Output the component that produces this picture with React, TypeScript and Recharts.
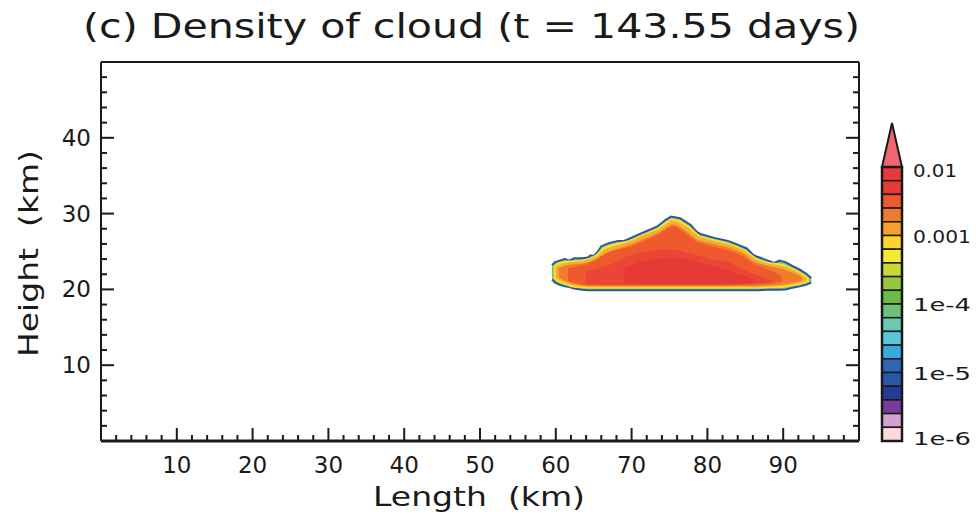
import { ComposedChart, Area, XAxis, YAxis } from "recharts";

const W = 976;
const H = 517;
const INK = "#1a1a1a";
const FONT = "DejaVu Sans, sans-serif";

// contour outlines: [x km, base km, top km]
const EDGE = [
  [59.5, 21.3, 23.2],
  [59.9, 20.9, 23.6],
  [60.5, 20.6, 23.8],
  [61.2, 20.4, 24.0],
  [61.8, 20.3, 23.8],
  [62.4, 20.1, 24.1],
  [63.5, 19.95, 24.1],
  [64.2, 19.9, 24.2],
  [64.6, 19.9, 24.5],
  [65.0, 19.9, 24.4],
  [65.5, 19.9, 24.9],
  [66.0, 19.9, 25.7],
  [67.0, 19.9, 26.1],
  [68.2, 19.9, 26.4],
  [69.0, 19.9, 26.4],
  [69.7, 19.9, 26.7],
  [70.8, 19.9, 27.2],
  [72.0, 19.9, 27.7],
  [73.4, 19.9, 28.3],
  [74.4, 19.9, 29.1],
  [75.2, 19.9, 29.6],
  [76.4, 19.9, 29.4],
  [77.8, 19.9, 28.5],
  [78.6, 19.9, 27.6],
  [79.1, 19.9, 27.3],
  [80.9, 19.9, 26.8],
  [82.7, 19.9, 26.4],
  [84.0, 19.9, 25.9],
  [85.2, 19.9, 25.4],
  [86.0, 19.9, 24.6],
  [86.6, 19.9, 24.3],
  [88.0, 19.95, 23.8],
  [88.8, 19.95, 23.5],
  [89.5, 19.95, 23.8],
  [90.3, 20.0, 23.6],
  [91.2, 20.2, 23.1],
  [92.2, 20.4, 22.6],
  [93.0, 20.6, 22.1],
  [93.7, 20.9, 21.5],
];

const YELLOW_BAND = [
  [59.7, 21.4, 23.1],
  [60.2, 21.0, 23.5],
  [61.2, 20.6, 23.8],
  [62.0, 20.3, 23.8],
  [63.5, 20.15, 23.9],
  [64.6, 20.1, 24.2],
  [65.4, 20.1, 24.7],
  [66.1, 20.1, 25.5],
  [67.0, 20.1, 25.9],
  [68.2, 20.1, 26.2],
  [69.7, 20.1, 26.5],
  [70.8, 20.1, 27.0],
  [72.0, 20.1, 27.5],
  [73.4, 20.1, 28.1],
  [74.4, 20.1, 28.9],
  [75.2, 20.1, 29.4],
  [76.3, 20.1, 29.2],
  [77.7, 20.1, 28.3],
  [79.0, 20.1, 27.1],
  [80.9, 20.1, 26.6],
  [82.7, 20.1, 26.2],
  [84.0, 20.1, 25.7],
  [85.1, 20.1, 25.2],
  [86.5, 20.1, 24.1],
  [88.0, 20.15, 23.6],
  [90.0, 20.2, 23.4],
  [91.1, 20.4, 22.9],
  [92.1, 20.6, 22.4],
  [92.9, 20.8, 21.9],
  [93.4, 21.0, 21.5],
];

const AMBER_BAND = [
  [60.0, 21.5, 23.0],
  [60.6, 21.1, 23.3],
  [61.4, 20.8, 23.5],
  [62.2, 20.5, 23.6],
  [63.5, 20.35, 23.7],
  [64.6, 20.3, 24.0],
  [65.5, 20.3, 24.4],
  [66.3, 20.3, 25.2],
  [67.2, 20.3, 25.6],
  [68.3, 20.3, 25.9],
  [69.7, 20.3, 26.3],
  [70.8, 20.3, 26.8],
  [72.0, 20.3, 27.3],
  [73.5, 20.3, 27.9],
  [74.5, 20.3, 28.6],
  [75.2, 20.3, 29.1],
  [76.2, 20.3, 28.9],
  [77.5, 20.3, 28.1],
  [78.9, 20.3, 26.9],
  [80.9, 20.3, 26.4],
  [82.6, 20.3, 26.0],
  [84.0, 20.3, 25.5],
  [85.0, 20.3, 25.0],
  [86.4, 20.3, 23.9],
  [88.0, 20.35, 23.4],
  [90.0, 20.45, 23.1],
  [91.0, 20.6, 22.7],
  [92.0, 20.8, 22.2],
  [92.8, 21.0, 21.7],
  [93.1, 21.2, 21.4],
];

const ORANGE_BAND = [
  [60.4, 21.6, 22.8],
  [61.0, 21.2, 23.1],
  [62.0, 20.8, 23.3],
  [63.5, 20.5, 23.4],
  [64.7, 20.45, 23.7],
  [65.6, 20.45, 24.1],
  [66.6, 20.45, 24.8],
  [67.5, 20.45, 25.2],
  [68.5, 20.45, 25.5],
  [69.8, 20.45, 25.9],
  [71.0, 20.45, 26.4],
  [72.2, 20.45, 26.9],
  [73.6, 20.45, 27.5],
  [74.6, 20.45, 28.2],
  [75.3, 20.45, 28.6],
  [76.1, 20.45, 28.4],
  [77.3, 20.45, 27.6],
  [78.7, 20.45, 26.5],
  [80.8, 20.45, 26.0],
  [82.5, 20.45, 25.6],
  [83.9, 20.45, 25.1],
  [84.9, 20.45, 24.6],
  [86.2, 20.45, 23.6],
  [88.0, 20.5, 23.1],
  [90.0, 20.65, 22.7],
  [91.0, 20.8, 22.3],
  [92.0, 21.0, 21.9],
  [92.5, 21.2, 21.5],
];

const BODY = [
  [61.6, 21.1, 22.8],
  [63.0, 20.7, 23.1],
  [64.0, 20.55, 23.3],
  [65.0, 20.55, 23.7],
  [66.0, 20.55, 24.4],
  [67.0, 20.55, 24.9],
  [68.5, 20.55, 25.3],
  [70.0, 20.55, 25.7],
  [71.2, 20.55, 26.2],
  [72.4, 20.55, 26.7],
  [73.7, 20.55, 27.3],
  [74.7, 20.55, 28.0],
  [75.4, 20.55, 28.4],
  [76.0, 20.55, 28.2],
  [77.1, 20.55, 27.4],
  [78.5, 20.55, 26.3],
  [80.5, 20.55, 25.7],
  [82.3, 20.55, 25.3],
  [83.7, 20.55, 24.8],
  [84.8, 20.6, 24.3],
  [86.0, 20.6, 23.4],
  [87.5, 20.7, 22.8],
  [88.8, 20.8, 22.3],
  [89.8, 21.0, 21.7],
];

const CORE = [
  [64.0, 20.7, 22.4],
  [66.0, 20.6, 22.9],
  [67.5, 20.6, 23.4],
  [69.0, 20.6, 24.2],
  [70.5, 20.6, 24.7],
  [72.0, 20.6, 25.0],
  [74.0, 20.6, 25.3],
  [76.0, 20.6, 25.2],
  [78.0, 20.6, 24.7],
  [79.5, 20.6, 24.3],
  [81.0, 20.6, 23.9],
  [82.7, 20.6, 23.7],
  [84.0, 20.65, 23.0],
  [85.5, 20.7, 22.3],
  [87.0, 20.8, 21.7],
  [88.4, 20.9, 21.2],
];

const INNER_CORE = [
  [69.0, 20.8, 22.8],
  [71.0, 20.7, 23.6],
  [73.0, 20.7, 24.0],
  [75.0, 20.7, 24.2],
  [77.0, 20.7, 24.0],
  [79.0, 20.7, 23.5],
  [81.0, 20.7, 23.0],
  [83.0, 20.75, 22.4],
  [85.0, 20.8, 21.7],
  [86.0, 20.9, 21.3],
];

// colour bar, top (0.01) to bottom (1e-6)
const LEVEL_COLORS = [
  "#e8393a", "#e83a35", "#ee5a30", "#f07a30", "#f7a030",
  "#fdd22e", "#f2eb35", "#c8d836", "#98c83a", "#6cbb45",
  "#6ec07a", "#6cc8b0", "#5ac8dc", "#38a8e0", "#2e66b8",
  "#2a58a8", "#243c98", "#7a3c9a", "#d4a0d0", "#fcd8d8",
];
const LEVEL_LABELS = ["0.01", "0.001", "1e-4", "1e-5", "1e-6"];
const OVER_COLOR = "#ef6672";

const X_TICKS = [
  2, 4, 6, 8, 10, 12, 14, 16, 18, 20, 22, 24, 26, 28, 30, 32, 34, 36, 38, 40,
  42, 44, 46, 48, 50, 52, 54, 56, 58, 60, 62, 64, 66, 68, 70, 72, 74, 76, 78, 80,
  82, 84, 86, 88, 90, 92, 94, 96, 98,
];
const Y_TICKS = [
  2, 4, 6, 8, 10, 12, 14, 16, 18, 20, 22, 24, 26, 28, 30, 32, 34, 36, 38, 40,
  42, 44, 46, 48,
];

const LAYERS = [
  { id: "edge", pts: EDGE, fill: "#7cc45a", stroke: "#2d56aa" },
  { id: "yellow", pts: YELLOW_BAND, fill: "#f0e032", stroke: "none" },
  { id: "amber", pts: AMBER_BAND, fill: "#f8ac32", stroke: "none" },
  { id: "orange", pts: ORANGE_BAND, fill: "#f27c2e", stroke: "none" },
  { id: "body", pts: BODY, fill: "#ee5a2e", stroke: "none" },
  { id: "core", pts: CORE, fill: "#e94636", stroke: "none" },
  { id: "inner", pts: INNER_CORE, fill: "#e53a36", stroke: "none" },
];

const toData = (pts: number[][]) => pts.map(([x, lo, hi]) => ({ x, range: [lo, hi] }));

const isMajor = (v: number) => v % 10 === 0;

const BottomTick = (props: any) => {
  const { x, y, payload } = props;
  const v = payload.value;
  return (
    <g>
      <line x1={x} y1={y} x2={x} y2={y - (isMajor(v) ? 13 : 6)} stroke={INK} strokeWidth={2} />
      {isMajor(v) && (
        <text x={x} y={y + 32} textAnchor="middle" fontSize={23} fontFamily={FONT} fill={INK}>
          {v}
        </text>
      )}
    </g>
  );
};

const TopTick = (props: any) => {
  const { x, y, payload } = props;
  return <line x1={x} y1={y} x2={x} y2={y + (isMajor(payload.value) ? 13 : 6)} stroke={INK} strokeWidth={2} />;
};

const LeftTick = (props: any) => {
  const { x, y, payload } = props;
  const v = payload.value;
  return (
    <g>
      <line x1={x} y1={y} x2={x + (isMajor(v) ? 13 : 6)} y2={y} stroke={INK} strokeWidth={2} />
      {isMajor(v) && (
        <text x={x - 10} y={y + 8} textAnchor="end" fontSize={23} fontFamily={FONT} fill={INK}>
          {v}
        </text>
      )}
    </g>
  );
};

const RightTick = (props: any) => {
  const { x, y, payload } = props;
  return <line x1={x} y1={y} x2={x - (isMajor(payload.value) ? 13 : 6)} y2={y} stroke={INK} strokeWidth={2} />;
};

function ColorBar() {
  const left = 882;
  const width = 20;
  const top = 167;
  const boxH = 13.7;
  const bottom = top + boxH * LEVEL_COLORS.length;
  return (
    <g>
      <polygon
        points={`${left},${top} ${left + width / 2},123 ${left + width},${top}`}
        fill={OVER_COLOR}
        stroke={INK}
        strokeWidth={2}
      />
      {LEVEL_COLORS.map((c, i) => (
        <rect key={i} x={left} y={top + i * boxH} width={width} height={boxH} fill={c} stroke={INK} strokeWidth={1.5} />
      ))}
      <rect x={left} y={top} width={width} height={bottom - top} fill="none" stroke={INK} strokeWidth={2.5} />
      {LEVEL_LABELS.map((t, i) => {
        let y = top + i * 5 * boxH;
        if (i === 0) y += 3;
        if (i === LEVEL_LABELS.length - 1) y -= 3;
        return (
          <text
            key={t}
            x={913}
            y={y + 7}
            fontSize={18}
            fontFamily={FONT}
            fill={INK}
            textLength={t.length === 4 && t[0] === "0" ? 44 : 58}
            lengthAdjust="spacingAndGlyphs"
          >
            {t}
          </text>
        );
      })}
    </g>
  );
}

export default function App() {
  return (
    <div style={{ position: "absolute", left: 0, top: 0, width: W, height: H, background: "#fff" }}>
      <ComposedChart width={W} height={H} margin={{ top: 42, right: 97, bottom: 46, left: 41 }}>
        <XAxis
          xAxisId="b"
          type="number"
          dataKey="x"
          domain={[0, 100]}
          allowDataOverflow
          ticks={X_TICKS}
          interval={0}
          tick={BottomTick}
          tickLine={false}
          tickSize={0}
          tickMargin={0}
          height={30}
          axisLine={{ stroke: INK, strokeWidth: 3 }}
        />
        <XAxis
          xAxisId="t"
          orientation="top"
          type="number"
          domain={[0, 100]}
          allowDataOverflow
          ticks={X_TICKS}
          interval={0}
          tick={TopTick}
          tickLine={false}
          tickSize={0}
          tickMargin={0}
          height={20}
          axisLine={{ stroke: INK, strokeWidth: 2 }}
        />
        <YAxis
          yAxisId="l"
          type="number"
          domain={[0, 50]}
          allowDataOverflow
          ticks={Y_TICKS}
          interval={0}
          tick={LeftTick}
          tickLine={false}
          tickSize={0}
          tickMargin={0}
          width={60}
          axisLine={{ stroke: INK, strokeWidth: 2 }}
        />
        <YAxis
          yAxisId="r"
          orientation="right"
          type="number"
          domain={[0, 50]}
          allowDataOverflow
          ticks={Y_TICKS}
          interval={0}
          tick={RightTick}
          tickLine={false}
          tickSize={0}
          tickMargin={0}
          width={20}
          axisLine={{ stroke: INK, strokeWidth: 2 }}
        />
        {LAYERS.map((l) => (
          <Area
            key={l.id}
            xAxisId="b"
            yAxisId="l"
            data={toData(l.pts)}
            dataKey="range"
            type="linear"
            fill={l.fill}
            fillOpacity={1}
            stroke={l.stroke}
            strokeWidth={2}
            dot={false}
            activeDot={false}
            isAnimationActive={false}
          />
        ))}
      </ComposedChart>
      <svg width={W} height={H} style={{ position: "absolute", left: 0, top: 0, pointerEvents: "none" }}>
        <text
          x={83}
          y={38}
          fontSize={33}
          fontFamily={FONT}
          fill={INK}
          textLength={777}
          lengthAdjust="spacingAndGlyphs"
        >
          (c) Density of cloud (t = 143.55 days)
        </text>
        <text
          x={373}
          y={506}
          fontSize={27}
          fontFamily={FONT}
          fill={INK}
          textLength={212}
          lengthAdjust="spacingAndGlyphs"
          style={{ whiteSpace: "pre" }}
        >
          Length  (km)
        </text>
        <text
          transform="translate(38, 357) rotate(-90)"
          x={0}
          y={0}
          fontSize={27}
          fontFamily={FONT}
          fill={INK}
          textLength={207}
          lengthAdjust="spacingAndGlyphs"
          style={{ whiteSpace: "pre" }}
        >
          Height  (km)
        </text>
        <ColorBar />
      </svg>
    </div>
  );
}
